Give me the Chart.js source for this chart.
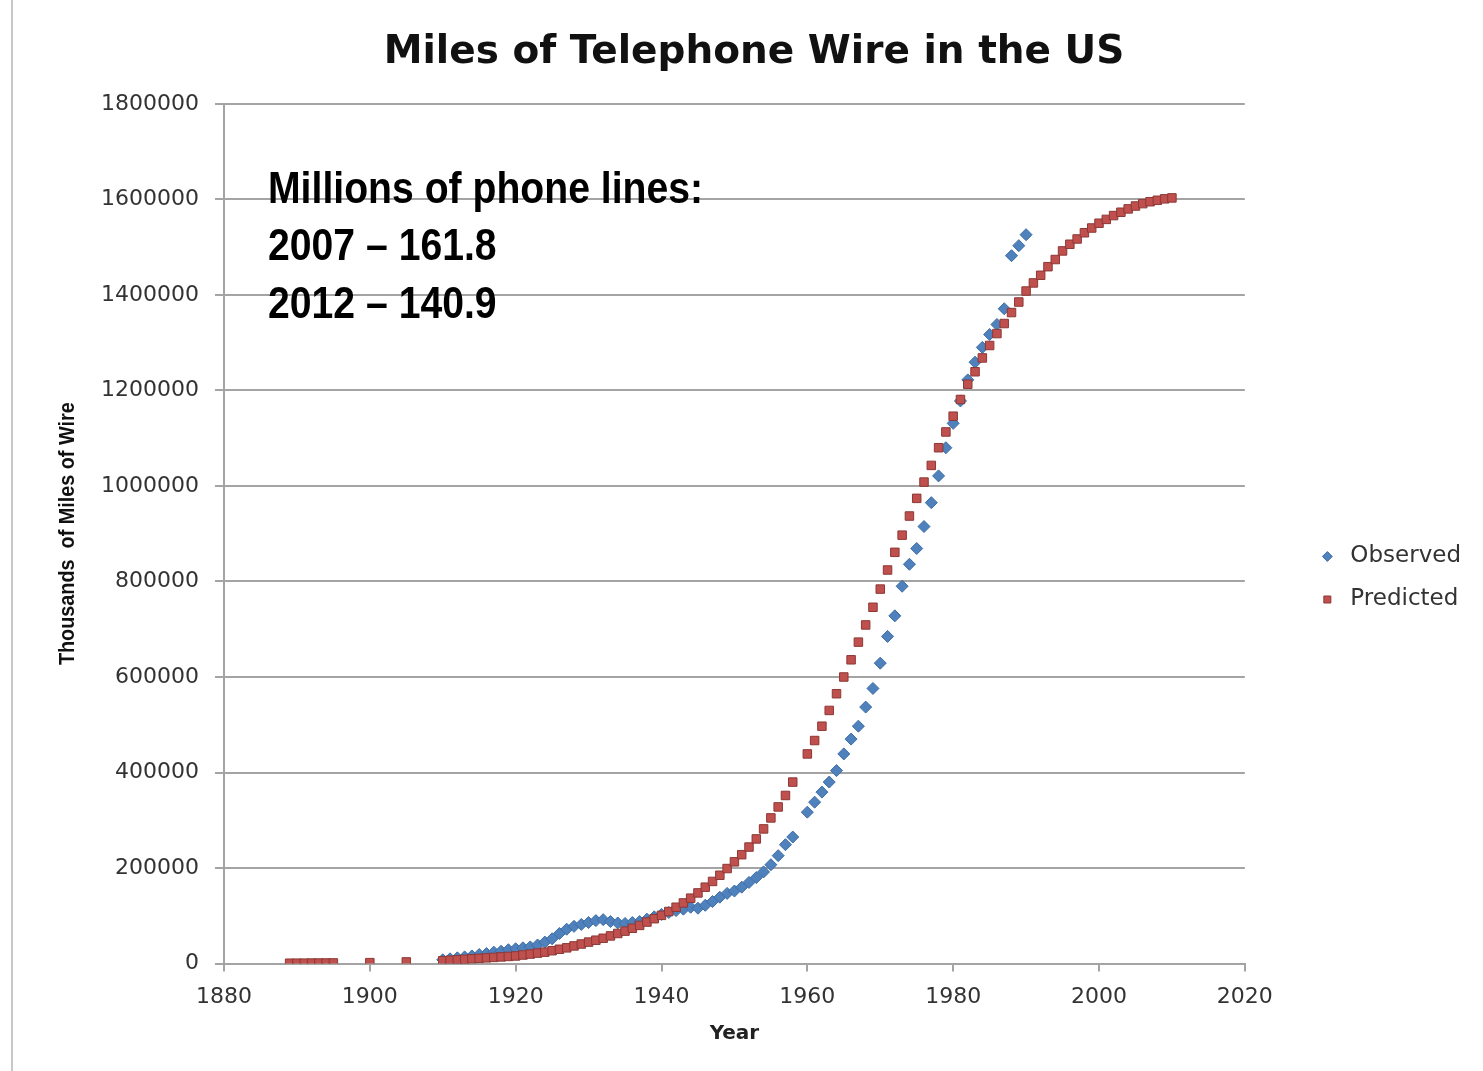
<!DOCTYPE html>
<html>
<head>
<meta charset="utf-8">
<script src="https://cdn.jsdelivr.net/npm/chart.js@4.4.1/dist/chart.umd.min.js"></script>
<style>
  html, body { margin: 0; padding: 0; background: #fff; }
  #wrap { position: relative; width: 1483px; height: 1071px; }
  #edge { position: absolute; left: 11px; top: 0; width: 2px; height: 1071px; background: #c8c8c8; }
</style>
</head>
<body>
<div id="wrap">
  <div id="edge"></div>
  <canvas id="wireChart" width="1483" height="1071"></canvas>
</div>
<script>
const obsYears = [
  1910, 1911, 1912, 1913, 1914, 1915, 1916, 1917, 1918, 1919,
  1920, 1921, 1922, 1923, 1924, 1925, 1926, 1927, 1928, 1929,
  1930, 1931, 1932, 1933, 1934, 1935, 1936, 1937, 1938, 1939,
  1940, 1941, 1942, 1943, 1944, 1945, 1946, 1947, 1948, 1949,
  1950, 1951, 1952, 1953, 1954, 1955, 1956, 1957, 1958,
  1960, 1961, 1962, 1963, 1964, 1965, 1966, 1967, 1968, 1969,
  1970, 1971, 1972, 1973, 1974, 1975, 1976, 1977, 1978, 1979,
  1980, 1981, 1982, 1983, 1984, 1985, 1986, 1987, 1988, 1989, 1990
];
const obsValues = [
  8000, 10000, 12000, 14000, 16000, 19000, 21000, 24000, 26000, 29000,
  31000, 33000, 35000, 39000, 45000, 52000, 63000, 72000, 78000, 82000,
  86000, 90000, 92000, 88000, 85000, 84000, 86000, 88000, 93000, 98000,
  103000, 107000, 111000, 114000, 118000, 116000, 122000, 130000, 139000, 147000,
  152000, 160000, 170000, 180000, 192000, 207000, 226000, 249000, 265000,
  317000, 338000, 359000, 380000, 404000, 439000, 470000, 497000, 537000, 576000,
  629000, 685000, 728000, 790000, 836000, 869000, 915000, 965000, 1021000, 1080000,
  1131000, 1178000, 1222000, 1259000, 1290000, 1317000, 1338000, 1371000, 1482000, 1503000, 1526000
];

const predYears = [
  1889, 1890, 1891, 1892, 1893, 1894, 1895, 1900, 1905,
  1910, 1911, 1912, 1913, 1914, 1915, 1916, 1917, 1918, 1919,
  1920, 1921, 1922, 1923, 1924, 1925, 1926, 1927, 1928, 1929,
  1930, 1931, 1932, 1933, 1934, 1935, 1936, 1937, 1938, 1939,
  1940, 1941, 1942, 1943, 1944, 1945, 1946, 1947, 1948, 1949,
  1950, 1951, 1952, 1953, 1954, 1955, 1956, 1957, 1958,
  1960, 1961, 1962, 1963, 1964, 1965, 1966, 1967, 1968, 1969,
  1970, 1971, 1972, 1973, 1974, 1975, 1976, 1977, 1978, 1979,
  1980, 1981, 1982, 1983, 1984, 1985, 1986, 1987, 1988, 1989,
  1990, 1991, 1992, 1993, 1994, 1995, 1996, 1997, 1998, 1999,
  2000, 2001, 2002, 2003, 2004, 2005, 2006, 2007, 2008, 2009, 2010
];
const predValues = [
  800, 900, 1000, 1100, 1200, 1300, 1400, 2000, 3500,
  6000, 7000, 8000, 9000, 10000, 11000, 12000, 13000, 14000, 15000,
  16000, 18000, 20000, 22000, 24000, 27000, 30000, 33000, 37000, 41000,
  45000, 49000, 53000, 58000, 63000, 68000, 74000, 80000, 87000, 94000,
  101000, 109000, 118000, 127000, 137000, 148000, 160000, 172000, 185000, 199000,
  213000, 228000, 244000, 261000, 282000, 305000, 328000, 352000, 380000,
  439000, 467000, 497000, 530000, 565000, 600000, 636000, 673000, 709000, 746000,
  784000, 824000, 861000, 897000, 937000, 974000, 1008000, 1043000, 1080000, 1113000,
  1146000, 1181000, 1213000, 1239000, 1268000, 1294000, 1319000, 1340000, 1363000, 1385000,
  1408000, 1425000, 1441000, 1459000, 1474000, 1492000, 1506000, 1517000, 1530000, 1540000,
  1550000, 1558000, 1566000, 1573000, 1580000, 1586000, 1591000, 1595000, 1598000, 1601000, 1603000
];

const noteLines = ['Millions of phone lines:', '2007 \u2013 161.8', '2012 \u2013 140.9'];
const yTitle = 'Thousands  of Miles of Wire';

const toPoints = (xs, ys) => xs.map((x, i) => ({ x: x, y: ys[i] }));

// narrow bold texts: the note box and the y axis title
const textPlugin = {
  id: 'texts',
  afterDraw(chart) {
    const ctx = chart.ctx;
    const a = chart.chartArea;
    ctx.save();
    ctx.fillStyle = '#000';
    ctx.font = 'bold 44px "Liberation Sans", Arial, sans-serif';
    ctx.textBaseline = 'alphabetic';
    noteLines.forEach((t, i) => {
      ctx.save();
      ctx.translate(a.left + 44, a.top + 99 + i * 57.5);
      ctx.scale(0.89, 1);
      ctx.fillText(t, 0, 0);
      ctx.restore();
    });

    ctx.fillStyle = '#111';
    ctx.font = 'bold 22px "Liberation Sans", Arial, sans-serif';
    ctx.textAlign = 'center';
    ctx.textBaseline = 'middle';
    ctx.translate(68, (a.top + a.bottom) / 2);
    ctx.rotate(-Math.PI / 2);
    ctx.scale(0.9, 1);
    ctx.fillText(yTitle, 0, 0);
    ctx.restore();
  }
};

const gridGray = '#a4a4a4';
const tickFont = { family: '"DejaVu Sans", Verdana, sans-serif', size: 22 };

new Chart(document.getElementById('wireChart'), {
  type: 'scatter',
  data: {
    datasets: [
      {
        label: 'Observed',
        data: toPoints(obsYears, obsValues),
        pointStyle: 'rectRot',
        pointRadius: 6,
        pointHoverRadius: 6,
        backgroundColor: '#4F81BD',
        borderColor: '#3d6ca3',
        borderWidth: 1,
        order: 2
      },
      {
        label: 'Predicted',
        data: toPoints(predYears, predValues),
        pointStyle: 'rect',
        pointRadius: 6,
        pointHoverRadius: 6,
        backgroundColor: '#C0504D',
        borderColor: '#8c3836',
        borderWidth: 1,
        order: 1
      }
    ]
  },
  options: {
    responsive: false,
    animation: false,
    layout: { padding: { left: 37, right: 12, top: 0, bottom: 25 } },
    plugins: {
      title: {
        display: true,
        text: 'Miles of Telephone Wire in the US',
        color: '#111',
        font: { family: '"DejaVu Sans", Verdana, sans-serif', size: 39, weight: 'bold' },
        padding: { top: 29, bottom: 28 }
      },
      legend: {
        position: 'right',
        title: {
          display: true,
          text: '',
          font: { size: 10 },
          padding: { top: 49, bottom: 49 }
        },
        labels: {
          usePointStyle: true,
          boxHeight: 7,
          padding: 20,
          color: '#333',
          font: { family: '"DejaVu Sans", Verdana, sans-serif', size: 23 },
          sort: (a, b) => a.datasetIndex - b.datasetIndex
        }
      },
      tooltip: { enabled: false }
    },
    scales: {
      x: {
        type: 'linear',
        min: 1880,
        max: 2020,
        ticks: {
          stepSize: 20,
          color: '#333',
          font: tickFont,
          padding: 12,
          callback: v => String(v)
        },
        grid: { drawOnChartArea: false, drawTicks: true, tickLength: 8, color: gridGray, lineWidth: 2 },
        border: { display: true, color: gridGray, width: 2 },
        title: {
          display: true,
          text: 'Year',
          color: '#222',
          font: { family: '"DejaVu Sans", Verdana, sans-serif', size: 20, weight: 'bold' },
          padding: { top: 0, bottom: 0 }
        }
      },
      y: {
        min: 0,
        max: 1800000,
        ticks: {
          stepSize: 200000,
          color: '#333',
          font: tickFont,
          padding: 16,
          callback: v => String(v)
        },
        grid: { color: gridGray, lineWidth: 2, tickLength: 9 },
        border: { display: true, color: gridGray, width: 2 },
        afterFit(s) { s.width = 187; }
      },
      gap: {
        axis: 'y',
        position: 'right',
        display: true,
        ticks: { display: false },
        grid: { display: false },
        border: { display: false },
        afterFit(s) { s.width = 51; }
      }
    }
  },
  plugins: [textPlugin]
});
</script>
</body>
</html>
